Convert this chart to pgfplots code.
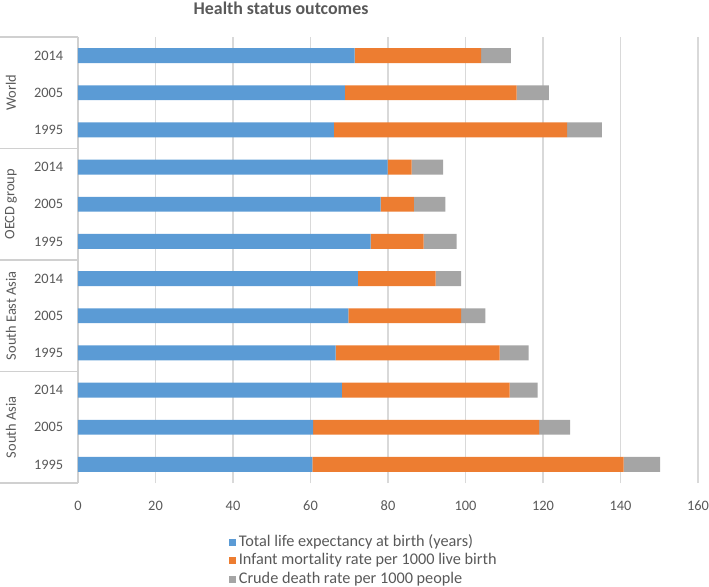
\documentclass[border=0pt]{standalone}
\usepackage{pgfplots}
\pgfplotsset{compat=1.18}
\usepackage{pgfplotstable}
\usepackage{fontspec}
\setmainfont{Carlito}
\definecolor{cblue}{HTML}{5B9BD5}
\definecolor{corange}{HTML}{ED7D31}
\definecolor{cgray}{HTML}{A5A5A5}
\definecolor{cgrid}{HTML}{D9D9D9}
\definecolor{ctext}{HTML}{595959}
\definecolor{cbox}{HTML}{D0D0D0}
\pgfplotstableread{
y life infant crude
0 60.5 80.3 9.4
1 60.7 58.3 8.0
2 68.1 43.3 7.2
3 66.5 42.3 7.5
4 69.8 29.1 6.2
5 72.2 20.1 6.6
6 75.5 13.7 8.5
7 78.1 8.6 8.1
8 79.9 6.2 8.1
9 66.0 60.2 9.0
10 68.9 44.3 8.3
11 71.4 32.6 7.7
}\datatable
\begin{document}
\begin{tikzpicture}
\useasboundingbox (0,0) rectangle (531.75pt,439.5pt);
\node[font=\fontsize{13.4}{16}\selectfont\bfseries, text=ctext] at (210.75pt,433.5pt) {Health status outcomes};
\begin{axis}[
  at={(58.5pt,77.25pt)}, anchor=south west,
  width=465pt, height=334.5pt, scale only axis,
  xbar stacked, bar width=0.4,
  xmin=0, xmax=160, ymin=-0.5, ymax=11.5,
  xtick={0,20,...,160},
  ytick={0,...,11},
  yticklabels={1995,2005,2014,1995,2005,2014,1995,2005,2014,1995,2005,2014},
  xmajorgrids, major grid style={cgrid, line width=0.8pt},
  major tick length=0pt,
  axis line style={draw=none},
  /pgf/number format/assume math mode=true,
  tick label style={font=\fontsize{10.8}{12}\selectfont, text=ctext},
  yticklabel style={xshift=-7.5pt},
  xticklabel style={yshift=-10pt},
  clip=false,
  legend style={at={(0.236,-0.108)}, anchor=north west, draw=none, fill=none,
    font=\fontsize{12.2}{13}\selectfont, text=ctext, row sep=1.9pt,
    nodes={inner sep=0.5pt, text height=8.5pt, text depth=2.5pt},
    /tikz/every odd column/.append style={column sep=2pt}},
  legend cell align=left,
  legend image code/.code={\fill[#1] (0pt,-2.6pt) rectangle (5.2pt,2.6pt);},
]
\addplot[fill=cblue, draw=none] table[x=life, y=y] {\datatable};
\addplot[fill=corange, draw=none] table[x=infant, y=y] {\datatable};
\addplot[fill=cgray, draw=none] table[x=crude, y=y] {\datatable};
\legend{Total life expectancy at birth (years), Infant mortality rate per 1000 live birth, Crude death rate per 1000 people}
\draw[cbox, line width=0.8pt] (rel axis cs:0,0) -- (rel axis cs:0,1);
\draw[cbox, line width=0.8pt] (axis cs:0,-0.5) -- ([xshift=-58.5pt]axis cs:0,-0.5);
\draw[cbox, line width=0.8pt] (axis cs:0,2.5) -- ([xshift=-58.5pt]axis cs:0,2.5);
\draw[cbox, line width=0.8pt] (axis cs:0,5.5) -- ([xshift=-58.5pt]axis cs:0,5.5);
\draw[cbox, line width=0.8pt] (axis cs:0,8.5) -- ([xshift=-58.5pt]axis cs:0,8.5);
\draw[cbox, line width=0.8pt] (axis cs:0,11.5) -- ([xshift=-58.5pt]axis cs:0,11.5);
\node[rotate=90, font=\fontsize{10.8}{12}\selectfont, text=ctext] at ([xshift=-50.25pt]axis cs:0,10) {World};
\node[rotate=90, font=\fontsize{10.8}{12}\selectfont, text=ctext] at ([xshift=-50.25pt]axis cs:0,7) {OECD group};
\node[rotate=90, font=\fontsize{10.8}{12}\selectfont, text=ctext] at ([xshift=-50.25pt]axis cs:0,4) {South East Asia};
\node[rotate=90, font=\fontsize{10.8}{12}\selectfont, text=ctext] at ([xshift=-50.25pt]axis cs:0,1) {South Asia};
\end{axis}
\end{tikzpicture}
\end{document}
